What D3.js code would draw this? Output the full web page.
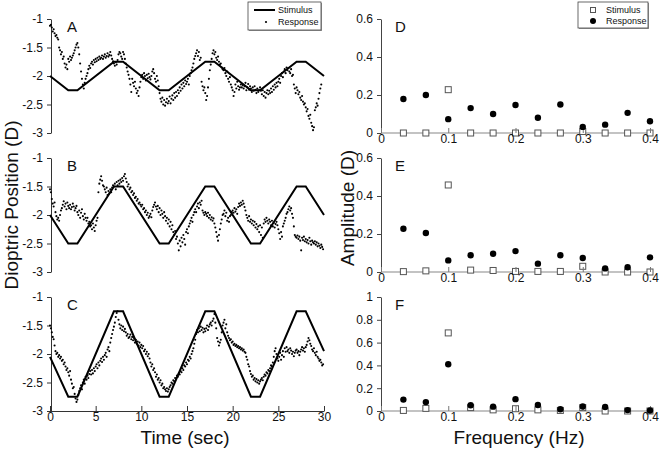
<!DOCTYPE html>
<html><head><meta charset="utf-8">
<script src="https://cdn.jsdelivr.net/npm/d3@7"></script>
<style>body{margin:0;background:#fff} text{font-family:"Liberation Sans",Arial,sans-serif}</style>
</head><body><svg id="c" width="664" height="452"></svg>
<script>
// ---------- DATA ----------
const stimTimes = [0,2,3,7,8,12,13,17,18,22,23,27,28,30];
const stimA = [-2,-2.25,-2.25,-1.75,-1.75,-2.25,-2.25,-1.75,-1.75,-2.25,-2.25,-1.75,-1.75,-2];
const stimB = [-2,-2.5,-2.5,-1.5,-1.5,-2.5,-2.5,-1.5,-1.5,-2.5,-2.5,-1.5,-1.5,-2];
const stimC = [-2.05,-2.75,-2.75,-1.25,-1.25,-2.75,-2.75,-1.25,-1.25,-2.75,-2.75,-1.25,-1.25,-1.95];
const sampleStep = 0.1; // seconds between response samples
const respA = [
-1.12,-1.10,-1.15,-1.22,-1.18,-1.25,-1.30,-1.28,-1.33,-1.36,
-1.50,-1.55,-1.62,-1.58,-1.70,-1.66,-1.78,-1.85,-1.80,-1.88,
-1.70,-1.75,-1.66,-1.72,-1.68,-1.64,-1.60,-1.55,-1.50,-1.45,
-1.42,-1.50,-1.62,-1.78,-1.92,-2.05,-2.15,-2.22,-2.12,-2.05,
-2.00,-1.95,-1.88,-1.82,-1.86,-1.78,-1.75,-1.80,-1.72,-1.76,
-1.70,-1.74,-1.68,-1.72,-1.66,-1.70,-1.68,-1.64,-1.70,-1.66,
-1.62,-1.68,-1.65,-1.60,-1.66,-1.63,-1.58,-1.64,-1.70,-1.74,
-1.78,-1.82,-1.76,-1.80,-1.72,-1.62,-1.58,-1.60,-1.66,-1.70,
-1.58,-1.62,-1.70,-1.78,-1.85,-1.92,-1.98,-2.05,-2.15,-2.28,
-2.05,-2.12,-2.18,-2.10,-2.22,-2.30,-2.26,-2.35,-2.20,-2.10,
-2.02,-1.98,-2.05,-1.95,-2.00,-2.08,-1.98,-2.04,-1.96,-2.02,
-2.06,-2.00,-1.92,-1.88,-1.95,-2.05,-2.10,-2.00,-2.08,-2.18,
-2.30,-2.40,-2.45,-2.38,-2.50,-2.42,-2.52,-2.46,-2.40,-2.48,
-2.44,-2.36,-2.48,-2.40,-2.34,-2.42,-2.30,-2.38,-2.28,-2.35,
-2.25,-2.30,-2.20,-2.26,-2.15,-2.22,-2.12,-2.18,-2.08,-2.14,
-2.10,-2.05,-2.15,-2.00,-1.95,-1.90,-1.85,-1.78,-1.70,-1.65,
-1.60,-1.55,-1.65,-1.58,-1.72,-1.68,-2.10,-2.18,-2.25,-2.20,
-2.30,-2.42,-2.35,-2.20,-2.05,-1.90,-1.80,-1.70,-1.60,-1.55,
-1.62,-1.58,-1.68,-1.72,-1.66,-1.75,-1.80,-1.78,-1.85,-1.88,
-1.90,-1.86,-1.95,-2.00,-1.92,-2.05,-2.10,-2.02,-2.15,-2.20,
-2.25,-2.35,-2.28,-2.15,-2.22,-2.10,-2.18,-2.24,-2.20,-2.15,
-2.20,-2.16,-2.22,-2.18,-2.12,-2.25,-2.20,-2.14,-2.24,-2.18,
-2.22,-2.28,-2.20,-2.26,-2.18,-2.24,-2.30,-2.22,-2.28,-2.25,
-2.20,-2.26,-2.32,-2.25,-2.35,-2.28,-2.38,-2.30,-2.25,-2.32,
-2.26,-2.30,-2.22,-2.28,-2.18,-2.24,-2.15,-2.20,-2.12,-2.18,
-2.10,-2.05,-2.12,-2.00,-1.95,-2.02,-1.92,-1.88,-1.95,-1.85,
-1.90,-1.86,-1.92,-1.95,-1.88,-2.00,-1.98,-2.15,-2.22,-2.30,
-2.20,-2.25,-2.32,-2.28,-2.38,-2.42,-2.35,-2.45,-2.50,-2.48,
-2.55,-2.62,-2.58,-2.70,-2.75,-2.68,-2.82,-2.88,-2.95,-2.90,
-2.60,-2.55,-2.48,-2.52,-2.40,-2.30,-2.22,-2.15];
const respB = [
-1.55,-1.60,-1.72,-1.80,-1.85,-1.78,-1.95,-2.02,-2.08,-2.05,
-2.10,-2.00,-1.92,-1.88,-1.82,-1.76,-1.85,-1.80,-1.90,-1.78,
-1.84,-1.88,-1.82,-1.90,-1.86,-1.80,-1.85,-1.92,-1.88,-1.84,
-1.95,-2.00,-1.92,-2.05,-1.96,-1.90,-2.02,-2.08,-1.98,-2.05,
-2.10,-2.05,-2.15,-2.12,-2.20,-2.18,-2.25,-2.15,-2.22,-2.28,
-2.18,-2.10,-2.05,-1.60,-1.45,-1.38,-1.32,-1.40,-1.48,-1.50,
-1.55,-1.60,-1.52,-1.65,-1.58,-1.62,-1.55,-1.60,-1.52,-1.48,
-1.50,-1.45,-1.55,-1.42,-1.48,-1.40,-1.45,-1.38,-1.42,-1.35,
-1.40,-1.32,-1.28,-1.36,-1.42,-1.50,-1.46,-1.55,-1.52,-1.60,
-1.58,-1.65,-1.62,-1.70,-1.68,-1.75,-1.72,-1.80,-1.78,-1.82,
-1.85,-1.82,-1.90,-1.88,-1.95,-1.92,-2.00,-1.96,-2.05,-2.02,
-1.98,-2.04,-1.92,-1.86,-1.82,-1.78,-1.85,-1.90,-1.84,-1.95,
-1.88,-2.00,-1.92,-1.98,-2.05,-1.95,-2.02,-2.10,-2.05,-2.15,
-2.08,-2.20,-2.12,-2.25,-2.18,-2.30,-2.35,-2.28,-2.42,-2.38,
-2.50,-2.62,-2.45,-2.55,-2.40,-2.48,-2.35,-2.42,-2.52,-2.30,
-2.25,-2.32,-2.20,-2.15,-2.10,-2.05,-2.12,-2.00,-1.95,-1.90,
-1.95,-1.85,-1.80,-1.88,-1.78,-1.82,-1.75,-1.92,-1.96,-2.00,
-1.95,-1.98,-2.02,-1.96,-2.05,-2.00,-2.08,-2.04,-2.10,-2.06,
-2.15,-2.22,-2.30,-2.38,-2.45,-2.35,-2.25,-2.15,-2.08,-2.00,
-1.98,-1.92,-2.02,-1.96,-2.10,-2.05,-2.12,-2.02,-2.00,-1.95,
-1.92,-1.96,-1.88,-1.94,-1.90,-1.98,-1.86,-1.80,-1.84,-1.78,
-1.82,-1.75,-1.80,-1.86,-1.92,-2.00,-2.05,-2.10,-2.02,-2.12,
-2.08,-2.15,-2.10,-2.18,-2.12,-2.22,-2.16,-2.25,-2.20,-2.30,
-2.18,-2.35,-2.22,-2.40,-2.15,-2.08,-2.12,-2.05,-2.10,-2.15,
-2.08,-2.12,-2.18,-2.10,-2.20,-2.14,-2.22,-2.16,-2.12,-2.18,
-2.25,-2.32,-2.42,-2.30,-2.38,-2.20,-2.15,-2.10,-2.05,-1.98,
-1.95,-1.90,-1.85,-1.92,-1.88,-1.98,-2.05,-2.20,-2.35,-2.38,
-2.40,-2.36,-2.42,-2.38,-2.45,-2.62,-2.40,-2.44,-2.38,-2.46,
-2.42,-2.48,-2.44,-2.50,-2.40,-2.46,-2.52,-2.45,-2.48,-2.50,
-2.46,-2.52,-2.48,-2.55,-2.50,-2.54,-2.58,-2.52,-2.56,-2.60];
const respC = [
-1.50,-1.55,-1.62,-1.70,-1.74,-1.85,-1.95,-2.00,-1.98,-2.05,
-2.02,-2.08,-2.05,-2.12,-2.10,-2.18,-2.15,-2.22,-2.28,-2.25,
-2.32,-2.38,-2.30,-2.45,-2.52,-2.60,-2.58,-2.70,-2.78,-2.84,
-2.80,-2.72,-2.65,-2.60,-2.55,-2.62,-2.50,-2.45,-2.52,-2.40,
-2.45,-2.38,-2.42,-2.35,-2.30,-2.36,-2.28,-2.34,-2.25,-2.30,
-2.22,-2.18,-2.25,-2.15,-2.20,-2.12,-2.08,-2.14,-2.05,-2.10,
-2.02,-1.98,-2.05,-1.92,-1.88,-1.95,-1.80,-1.72,-1.65,-1.58,
-1.52,-1.45,-1.35,-1.28,-1.25,-1.40,-1.48,-1.55,-1.50,-1.58,
-1.52,-1.60,-1.56,-1.62,-1.68,-1.65,-1.72,-1.70,-1.66,-1.74,
-1.70,-1.76,-1.72,-1.80,-1.75,-1.82,-1.78,-1.85,-1.80,-1.88,
-1.84,-1.90,-1.86,-1.95,-1.92,-2.00,-1.96,-2.04,-2.00,-2.08,
-2.15,-2.22,-2.18,-2.28,-2.25,-2.32,-2.40,-2.36,-2.45,-2.42,
-2.50,-2.46,-2.55,-2.52,-2.60,-2.58,-2.62,-2.65,-2.60,-2.66,
-2.62,-2.58,-2.55,-2.50,-2.52,-2.46,-2.48,-2.42,-2.44,-2.38,
-2.40,-2.34,-2.36,-2.30,-2.32,-2.25,-2.28,-2.20,-2.22,-2.15,
-2.18,-2.10,-2.12,-2.05,-2.08,-2.00,-1.95,-1.90,-1.82,-1.75,
-1.65,-1.58,-1.62,-1.55,-1.60,-1.52,-1.58,-1.54,-1.62,-1.56,
-1.60,-1.55,-1.50,-1.58,-1.52,-1.48,-1.45,-1.50,-1.42,-1.38,
-1.30,-1.45,-1.55,-1.72,-1.78,-1.85,-1.80,-1.75,-1.62,-1.50,
-1.45,-1.40,-1.55,-1.48,-1.62,-1.68,-1.72,-1.76,-1.74,-1.80,
-1.78,-1.84,-1.82,-1.86,-1.84,-1.88,-1.86,-1.90,-1.88,-1.92,
-1.90,-1.94,-1.92,-1.96,-1.98,-2.05,-2.10,-2.18,-2.22,-2.30,
-2.35,-2.40,-2.38,-2.45,-2.42,-2.48,-2.44,-2.50,-2.46,-2.52,
-2.48,-2.45,-2.42,-2.46,-2.40,-2.36,-2.38,-2.32,-2.34,-2.28,
-2.30,-2.25,-2.20,-2.22,-2.15,-2.05,-1.95,-1.90,-2.00,-2.08,
-2.12,-2.05,-1.98,-2.10,-2.02,-1.95,-2.05,-1.90,-1.96,-1.88,
-1.95,-1.92,-1.98,-1.90,-1.94,-2.00,-1.96,-2.04,-1.98,-1.94,
-1.92,-1.98,-1.95,-2.02,-1.96,-1.92,-1.88,-1.94,-1.90,-1.96,
-1.88,-1.84,-1.78,-1.72,-1.76,-1.82,-1.86,-1.92,-1.95,-1.90,
-1.98,-2.02,-1.96,-2.05,-2.08,-2.12,-2.10,-2.15,-2.20,-2.18];

const freqs = [0.0333,0.0667,0.1,0.1333,0.1667,0.2,0.2333,0.2667,0.3,0.3333,0.3667,0.4];
const ampStimD = [0,0,0.228,0,0,0,0,0,0.008,0,0,0];
const ampRespD = [0.179,0.200,0.073,0.131,0.100,0.147,0.080,0.150,0.032,0.044,0.106,0.062];
const ampStimE = [0.002,0.006,0.458,0.010,0.008,0.003,0.003,0.003,0.030,0,0,0];
const ampRespE = [0.228,0.205,0.061,0.088,0.096,0.110,0.044,0.088,0.074,0.019,0.025,0.077];
const ampStimF = [0.005,0.023,0.685,0.030,0.010,0.020,0.010,0.005,0.030,0,0,0];
const ampRespF = [0.100,0.078,0.410,0.050,0.038,0.104,0.052,0.015,0.040,0.035,0.008,0.005];

const leftTicks = [-1,-1.5,-2,-2.5,-3];
const timeTicks = [0,5,10,15,20,25,30];
const freqTicks = [0,0.1,0.2,0.3,0.4];
const ampTicksDE = [0,0.2,0.4,0.6];
const ampTicksF = [0,0.2,0.4,0.6,0.8,1];
const leftLetters = ["A","B","C"];
const rightLetters = ["D","E","F"];

// ---------- DRAW ----------
const FONT = "'Liberation Sans', Arial, sans-serif";
const svg = d3.select("#c");
const tops = [19,158,297], H = 114;
const xT = d3.scaleLinear([0,30],[50,324]);
const xF = d3.scaleLinear([0,0.4],[381,650]);
const fmt = d => String(d);

const stims = [stimA, stimB, stimC];
const resps = [respA, respB, respC];
const ampStims = [ampStimD, ampStimE, ampStimF];
const ampResps = [ampRespD, ampRespE, ampRespF];
const ampDomains = [[0,0.6],[0,0.6],[0,1]];
const ampTicks = [ampTicksDE, ampTicksDE, ampTicksF];

function styleAxis(g, col){
  g.selectAll("path.domain").attr("stroke", col);
  g.selectAll(".tick line").attr("stroke", col);
  g.selectAll(".tick text").attr("fill","#111").style("font-size","12px").style("font-family",FONT);
}

for (let p=0;p<3;p++){
  const top = tops[p];
  const y = d3.scaleLinear([-3,-1],[top+H, top]);
  const gy = svg.append("g").attr("transform","translate(51,0)")
    .call(d3.axisLeft(y).tickValues(leftTicks).tickFormat(fmt).tickSize(4).tickSizeOuter(0).tickPadding(4));
  styleAxis(gy, "#333");
  if (p===2){
    const gx = svg.append("g").attr("transform",`translate(0,${y(-3)})`)
      .call(d3.axisBottom(xT).tickValues(timeTicks).tickFormat(fmt).tickSize(-5).tickSizeOuter(0).tickPadding(1));
    styleAxis(gx, "#333");
  }
  const line = d3.line().x((d,i)=>xT(stimTimes[i])).y(d=>y(d));
  svg.append("path").datum(stims[p]).attr("d", line)
    .attr("fill","none").attr("stroke","#000").attr("stroke-width",2).attr("stroke-linejoin","miter");
  svg.append("g").selectAll("circle").data(resps[p]).join("circle")
    .attr("cx",(d,i)=>xT(i*sampleStep)).attr("cy",d=>y(d)).attr("r",1.05).attr("fill","#000");
  svg.append("text").attr("x",67).attr("y",top+13).text(leftLetters[p])
    .style("font-size","15px").style("font-family",FONT).attr("fill","#111");

  const ya = d3.scaleLinear(ampDomains[p],[top+H, top]);
  const gya = svg.append("g").attr("transform","translate(381,0)")
    .call(d3.axisLeft(ya).tickValues(ampTicks[p]).tickFormat(fmt).tickSize(4).tickSizeOuter(0).tickPadding(4));
  styleAxis(gya, "#444");
  svg.append("line").attr("x1",xF(0)).attr("x2",xF(0.4)).attr("y1",ya(0)).attr("y2",ya(0))
    .attr("stroke","#888").attr("stroke-width",1.2);
  svg.append("g").selectAll("rect").data(ampStims[p]).join("rect")
    .attr("x",(d,i)=>xF(freqs[i])-3).attr("y",d=>ya(d)-3).attr("width",6).attr("height",6)
    .attr("fill","#fff").attr("stroke","#555").attr("stroke-width",1);
  const gxa = svg.append("g").attr("transform",`translate(0,${ya(0)})`)
    .call(d3.axisBottom(xF).tickValues(freqTicks).tickFormat(fmt).tickSize(-5).tickSizeOuter(0).tickPadding(1));
  gxa.select("path.domain").remove();
  styleAxis(gxa, "#777");
  svg.append("g").selectAll("circle").data(ampResps[p]).join("circle")
    .attr("cx",(d,i)=>xF(freqs[i])).attr("cy",d=>ya(d)).attr("r",3.2).attr("fill","#000");
  svg.append("text").attr("x",395).attr("y",top+13).text(rightLetters[p])
    .style("font-size","15px").style("font-family",FONT).attr("fill","#111");
}

function title(attrs, txt){
  const t = svg.append("text").attr("text-anchor","middle").text(txt)
    .style("font-size","19px").style("font-family",FONT).attr("fill","#111");
  for (const k in attrs) t.attr(k, attrs[k]);
}
title({x:185,y:444},"Time (sec)");
title({x:519,y:444},"Frequency (Hz)");
title({transform:"translate(18,205) rotate(-90)"},"Dioptric Position (D)");
title({transform:"translate(354,208) rotate(-90)"},"Amplitude (D)");

function legendBox(x,y,w,h){
  svg.append("rect").attr("x",x+1).attr("y",y+1).attr("width",w).attr("height",h).attr("fill","#999");
  svg.append("rect").attr("x",x).attr("y",y).attr("width",w).attr("height",h).attr("fill","#fff").attr("stroke","#444").attr("stroke-width",0.8);
}
function legText(x,y,txt){
  svg.append("text").attr("x",x).attr("y",y).text(txt).style("font-size","9px").style("font-family",FONT).attr("fill","#111");
}
legendBox(248,2,73,28);
svg.append("line").attr("x1",254).attr("x2",275).attr("y1",10).attr("y2",10).attr("stroke","#000").attr("stroke-width",2);
svg.append("circle").attr("cx",266).attr("cy",22).attr("r",1.1).attr("fill","#000");
legText(278,13,"Stimulus");
legText(278,25,"Response");

legendBox(578,2,70,26);
svg.append("rect").attr("x",590.5).attr("y",7.5).attr("width",5).attr("height",5).attr("fill","#fff").attr("stroke","#555");
svg.append("circle").attr("cx",593).attr("cy",21).attr("r",3).attr("fill","#000");
legText(606,13,"Stimulus");
legText(606,24,"Response");
</script></body></html>
